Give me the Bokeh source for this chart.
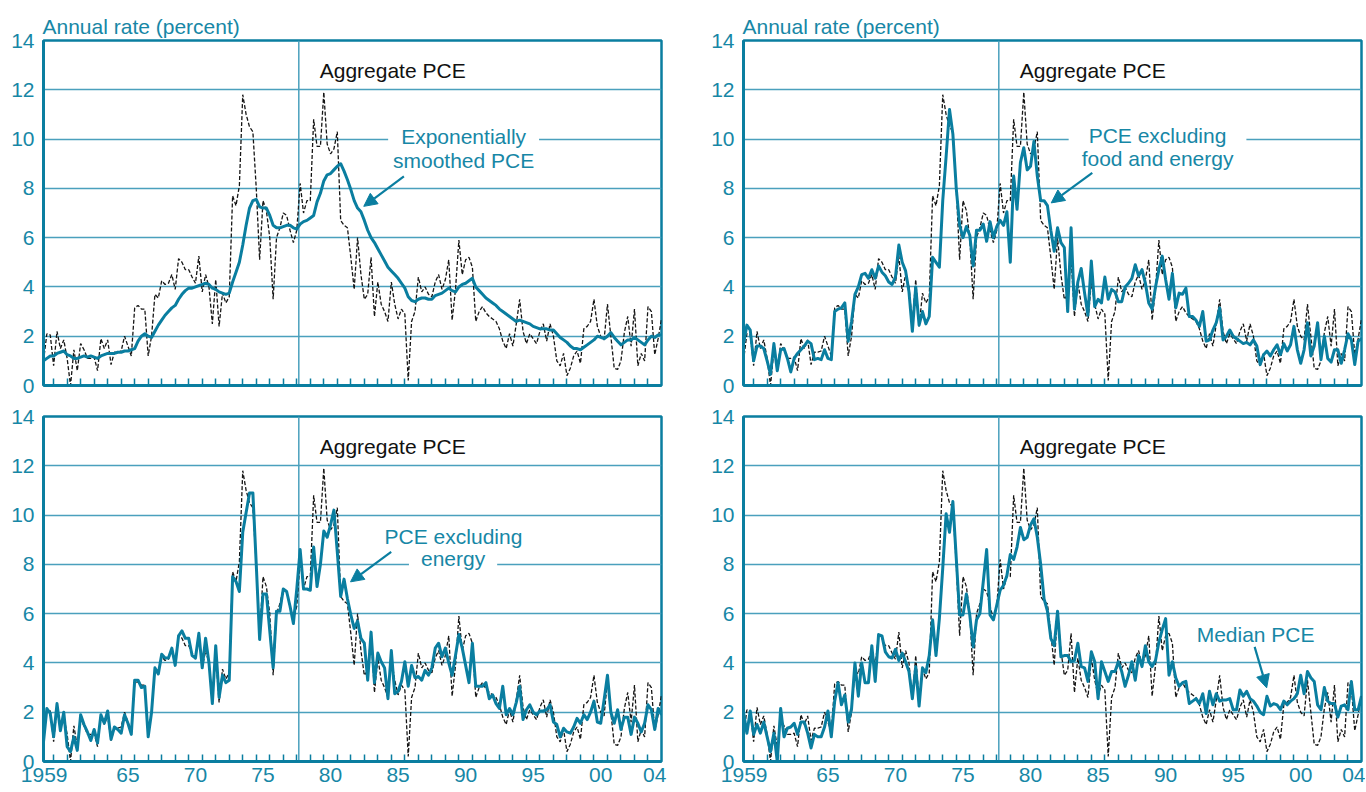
from bokeh.plotting import figure
from bokeh.models import FixedTicker, Span, Label, Arrow, NormalHead, Range1d
from bokeh.layouts import row, column
from bokeh.embed import file_html
from bokeh.resources import INLINE

# ---------------- data (quarterly, annualised percent) ----------------
aggregate_pce = [
    1.0, 2.1, 2.05, 0.8, 2.2, 1.5, 1.85, 1.1, 0.0, 1.45,
    0.6, 1.7, 1.45, 1.1, 1.1, 1.15, 0.6, 1.9, 1.5, 1.85,
    0.85, 1.35, 1.35, 1.4, 2.0, 1.6, 1.2, 3.15, 3.25, 3.1,
    3.1, 1.2, 2.0, 3.7, 3.55, 4.25, 4.1, 4.15, 4.5, 3.9,
    5.15, 5.0, 4.7, 4.7, 4.4, 4.15, 5.25, 3.8, 4.5, 4.0,
    2.5, 4.3, 2.4, 3.75, 3.35, 3.6, 7.7, 7.3, 8.1, 11.8,
    11.0, 10.5, 10.3, 8.0, 5.1, 7.5, 7.1, 6.0, 3.5, 6.0,
    6.4, 7.0, 6.9, 6.3, 5.8, 6.3, 8.2, 7.0, 7.5, 7.5,
    10.8, 9.7, 9.7, 11.9, 9.8, 9.4, 9.6, 10.3, 6.7, 6.5,
    6.4, 5.2, 3.9, 6.0, 4.5, 3.5, 3.7, 5.2, 2.8, 4.2,
    3.3, 3.0, 2.6, 4.2, 3.3, 2.7, 3.1, 2.9, 0.2, 2.6,
    3.0, 4.4, 3.8, 4.0, 3.7, 3.6, 4.2, 4.5, 3.9, 4.3,
    5.1, 2.65, 3.9, 5.9, 4.5, 5.1, 5.2, 4.8, 2.6, 3.0,
    3.2, 2.95, 2.8, 2.7, 2.6, 2.3, 1.8, 1.5, 2.1, 1.6,
    2.5, 3.5, 2.2, 1.7, 2.1, 1.9, 1.7, 2.2, 2.5, 1.8,
    2.5, 2.0, 1.0, 0.8, 1.3, 0.4, 0.7, 1.2, 1.4, 0.9,
    2.3, 2.4, 2.6, 3.5, 2.4, 2.0, 1.85, 3.3, 2.0, 0.7,
    0.65, 1.0, 2.15, 2.8, 1.6, 3.1, 0.8, 1.3, 1.0, 3.2,
    3.0, 1.25, 1.9, 2.7,
]

smoothed_pce = [
    1.0, 1.1, 1.2, 1.2, 1.3, 1.35, 1.4, 1.25, 1.2, 1.1,
    1.1, 1.15, 1.2, 1.15, 1.2, 1.15, 1.1, 1.2, 1.25, 1.3,
    1.3, 1.3, 1.35, 1.35, 1.4, 1.4, 1.45, 1.5, 1.8, 2.0,
    2.1, 2.0, 1.95, 2.2, 2.45, 2.65, 2.85, 3.0, 3.15, 3.25,
    3.5, 3.7, 3.85, 3.95, 3.95, 4.0, 4.05, 4.1, 4.15, 4.1,
    3.95, 3.9, 3.8, 3.75, 3.7, 3.75, 4.2, 4.6, 5.0, 5.7,
    6.5, 7.2, 7.5, 7.55, 7.25, 7.2, 7.2, 6.9, 6.5, 6.4,
    6.4, 6.45, 6.5, 6.5, 6.4, 6.35, 6.55, 6.65, 6.7, 6.8,
    6.9, 7.45, 7.8, 8.3, 8.55, 8.6, 8.75, 8.9, 9.0, 8.7,
    8.35, 7.95, 7.5, 7.2, 7.05, 6.7, 6.3, 6.0, 5.8, 5.55,
    5.3, 5.05, 4.8, 4.65, 4.5, 4.35, 4.15, 3.95, 3.6, 3.45,
    3.4, 3.5, 3.55, 3.55, 3.5, 3.5, 3.65, 3.7, 3.75, 3.85,
    3.95, 3.85, 3.8, 4.0, 4.1, 4.15, 4.25, 4.35, 4.0, 3.85,
    3.7, 3.55, 3.45, 3.35, 3.25, 3.1, 3.0, 2.9, 2.8, 2.7,
    2.6, 2.65, 2.6, 2.55, 2.5, 2.4, 2.35, 2.3, 2.3, 2.3,
    2.25, 2.25, 2.1, 1.95, 1.85, 1.75, 1.6, 1.5, 1.5, 1.45,
    1.55, 1.65, 1.75, 1.85, 2.0, 1.95, 1.9, 2.0, 2.15, 1.95,
    1.8, 1.65, 1.75, 1.85, 1.85, 1.95, 1.85, 1.75, 1.65, 1.85,
    2.0, 1.95, 2.05, 2.05,
]

pce_ex_food_energy = [
    1.7, 2.45, 2.25, 1.0, 1.6, 1.6, 1.5, 1.0, 0.45, 1.7,
    0.6, 1.45, 1.5, 1.1, 0.55, 1.1, 1.3, 1.45, 1.6, 1.8,
    1.7, 1.05, 1.1, 1.05, 1.45, 1.1, 1.05, 3.0, 3.1, 3.15,
    3.35, 1.8, 2.6, 3.7, 4.0, 4.5, 4.55, 4.35, 4.7, 4.35,
    4.85, 4.6, 4.45, 4.2, 4.1, 4.4, 5.7, 5.0, 4.65, 3.8,
    2.2, 4.0, 2.45, 3.0, 2.5, 2.8, 5.2, 5.0, 4.8, 7.5,
    9.3, 11.2, 10.2, 8.0, 6.5, 6.0, 6.45, 6.1, 4.85, 6.3,
    6.3, 6.55, 5.85, 6.65, 6.0, 6.45, 6.7, 6.5, 7.05, 5.0,
    8.5, 7.15, 9.05, 9.65, 8.75, 8.9, 9.9, 8.5, 7.5, 7.5,
    7.3, 6.3, 5.45, 6.4, 5.8, 5.6, 3.0, 6.4, 3.1, 4.2,
    4.75, 3.75, 2.85, 5.05, 3.2, 3.5, 3.35, 4.4, 3.5, 3.9,
    3.8, 3.4, 3.4, 4.0, 4.15, 4.35, 4.9, 4.45, 4.7, 4.15,
    3.35, 3.1, 4.0, 4.7, 5.25, 4.3, 3.5, 4.55, 3.15, 3.75,
    3.7, 3.95, 2.8, 2.8, 2.65, 2.4, 3.0, 1.8, 1.85, 2.25,
    2.55, 3.15, 1.85, 2.0, 2.25, 2.0, 1.9, 1.8, 1.7, 1.75,
    1.65, 1.85, 1.6, 0.85, 1.25, 1.4, 1.2, 1.45, 1.65, 1.25,
    1.7, 1.4, 1.65, 2.4, 1.45, 0.9, 1.45, 2.55, 1.2, 1.6,
    2.55, 1.05, 2.0, 1.1, 0.95, 1.45, 1.45, 0.9, 1.45, 2.1,
    1.85, 0.85, 1.8, 1.9,
]

pce_ex_energy = [
    0.8, 2.15, 1.95, 1.0, 2.35, 1.25, 2.0, 0.6, 0.4, 1.0,
    0.45, 1.9, 1.5, 1.2, 0.85, 1.3, 0.75, 1.9, 1.55, 2.05,
    0.9, 1.4, 1.3, 1.15, 1.9, 1.55, 1.1, 3.3, 3.3, 3.0,
    3.05, 1.0, 2.0, 3.8, 3.55, 4.35, 4.2, 4.2, 4.6, 3.9,
    5.1, 5.3, 5.0, 5.0, 4.3, 4.2, 5.2, 3.8, 5.0, 4.0,
    2.35, 4.7, 2.6, 3.5, 3.2, 3.3, 7.5, 7.3, 6.9, 9.3,
    10.1, 10.9, 10.9, 8.0, 4.95, 6.8, 6.8, 5.3, 3.8, 6.1,
    6.1, 7.0, 6.9, 6.3, 5.6, 7.0, 8.6, 7.0, 7.0, 6.95,
    8.7, 7.1, 8.0, 9.35, 9.1, 9.6, 10.2, 8.5, 6.7, 7.4,
    6.6, 5.95, 5.4, 5.7, 5.0, 4.8, 3.3, 5.25, 3.2, 4.4,
    4.05, 3.8, 2.55, 4.5, 2.75, 2.85, 3.25, 4.05, 3.05, 3.9,
    3.4, 3.45, 3.3, 3.7, 3.5, 3.8, 4.6, 4.8, 4.25, 4.6,
    4.0, 3.5, 4.3, 5.15, 4.6, 3.9, 3.2, 4.8, 3.05, 3.05,
    3.05, 3.2, 2.55, 2.7, 2.35, 2.15, 3.05, 1.9, 2.15, 1.9,
    2.4, 3.05, 1.7, 2.1, 2.3, 2.0, 1.9, 2.05, 2.05, 2.1,
    2.3, 1.6, 1.5, 1.0, 1.35, 1.2, 1.15, 1.4, 1.75, 1.55,
    1.9, 1.7, 2.0, 2.45, 1.6, 1.55, 2.5, 3.5, 2.0, 1.55,
    2.1, 1.3, 1.8, 1.8, 1.1, 1.8, 1.55, 1.2, 1.55, 2.3,
    2.1, 1.3, 2.15, 1.9,
]

median_pce = [
    2.0, 1.15, 2.05, 1.1, 1.5, 1.15, 1.6, 1.0, 0.4, 1.15,
    0.0, 2.15, 1.0, 1.35, 1.4, 1.55, 1.1, 1.6, 1.6, 1.15,
    0.55, 1.1, 1.0, 1.0, 1.4, 2.05, 1.0, 2.45, 3.2, 2.3,
    2.7, 1.6, 2.15, 4.0, 2.65, 4.0, 3.2, 3.2, 4.7, 3.25,
    5.15, 5.1, 4.45, 4.25, 4.2, 4.55, 4.1, 4.4, 4.05, 3.65,
    2.55, 3.85, 2.25, 3.8, 3.6, 4.3, 5.75, 4.3, 5.8, 7.85,
    10.05, 9.3, 10.55, 8.25, 5.95, 5.95, 6.8, 5.95, 4.65, 5.75,
    6.0, 7.3, 8.6, 5.95, 5.75, 6.35, 6.95, 7.15, 7.55, 8.4,
    8.2, 8.7, 9.5, 9.0, 9.1, 9.6, 9.85, 9.1, 8.0, 6.6,
    6.1, 5.0, 4.7, 6.1, 4.25, 4.3, 4.3, 4.05, 4.1, 4.8,
    3.85, 3.8, 3.25, 4.45, 4.05, 2.55, 4.05, 3.65, 3.25, 3.65,
    3.65, 4.05, 3.65, 3.05, 3.5, 4.05, 3.3, 4.3, 3.85, 4.7,
    4.05, 3.85, 4.1, 4.85, 5.35, 5.8, 3.5, 4.05, 3.4, 3.05,
    3.2, 3.25, 2.35, 2.45, 2.55, 2.35, 2.75, 1.95, 2.85, 2.3,
    2.75, 2.45, 2.5, 2.5, 2.55, 2.1, 2.1, 2.9, 2.65, 2.85,
    2.55, 2.45, 2.25, 2.0, 1.9, 2.65, 2.25, 2.35, 2.3, 2.1,
    2.45, 2.3, 2.45, 2.55, 2.75, 3.5, 2.75, 3.65, 3.4, 3.25,
    2.3, 2.1, 3.0, 2.45, 2.35, 2.35, 1.8, 2.25, 2.3, 2.1,
    3.25, 2.1, 2.1, 2.65,
]

first_quarter = 1959.25          # first plotted quarter, quarterly steps
x_start, x_end = 1959.25, 2005.0

ytick_values = [0, 2, 4, 6, 8, 10, 12, 14]
ygrid_values = [2, 4, 6, 8, 10, 12]
xtick_positions = [1959.3, 1965.5, 1970.5, 1975.5, 1980.5, 1985.5, 1990.5, 1995.5, 2000.5, 2004.5]
xtick_labels = ["1959", "65", "70", "75", "80", "85", "90", "95", "00", "04"]
year_ticks = list(range(1960, 2005))
divider_year = 1978.15

quarters = [first_quarter + 0.25 * i for i in range(len(aggregate_pce))]

# ---------------- styling ----------------
FONT = "Liberation Sans"
TEAL = "#0a7ea0"
TEXT_TEAL = "#1787a6"
GRID = "#4aa0bd"
FS = "21px"


def make_panel(series, top, right_panel, notes, arrow):
    p = figure(frame_width=618, frame_height=345,
               x_range=Range1d(x_start, x_end), y_range=Range1d(0, 14),
               output_backend="svg", toolbar_location=None,
               min_border_left=43, min_border_right=4 if right_panel else 39,
               min_border_top=40 if top else 20, min_border_bottom=11 if top else 30,
               background_fill_color="white", border_fill_color="white")
    if top:
        p.title.text = "Annual rate (percent)"
        p.title.text_font = FONT
        p.title.text_font_size = FS
        p.title.text_font_style = "normal"
        p.title.text_color = TEXT_TEAL
        p.title.align = "left"
        p.title.standoff = 5
        p.title.offset = -1

    p.outline_line_color = TEAL
    p.outline_line_width = 2.5
    p.outline_line_alpha = 1.0

    # y axis
    ya = p.yaxis[0]
    ya.ticker = FixedTicker(ticks=ytick_values)
    ya.major_tick_in = 0
    ya.major_tick_out = 0
    ya.minor_tick_in = 0
    ya.minor_tick_out = 0
    ya.axis_line_color = TEAL
    ya.axis_line_width = 3
    ya.major_label_text_font = FONT
    ya.major_label_text_font_size = FS
    ya.major_label_text_color = TEXT_TEAL
    ya.major_label_standoff = 9

    # x axis
    xa = p.xaxis[0]
    if top:
        xa.ticker = FixedTicker(ticks=[], minor_ticks=year_ticks)
        xa.major_label_text_font_size = "0px"
        xa.major_label_standoff = 0
    else:
        xa.ticker = FixedTicker(ticks=xtick_positions, minor_ticks=year_ticks)
        xa.major_label_overrides = {pos: lab for pos, lab in zip(xtick_positions, xtick_labels)}
        xa.major_label_text_font = FONT
        xa.major_label_text_font_size = FS
        xa.major_label_text_color = TEXT_TEAL
        xa.major_label_standoff = 6
    xa.major_tick_in = 0
    xa.major_tick_out = 0
    xa.minor_tick_in = 7
    xa.minor_tick_out = 0
    xa.minor_tick_line_color = TEAL
    xa.minor_tick_line_width = 1.5
    xa.axis_line_color = TEAL
    xa.axis_line_width = 3

    # grid
    p.xgrid.visible = False
    p.ygrid.ticker = FixedTicker(ticks=ygrid_values)
    p.ygrid.grid_line_color = GRID
    p.ygrid.grid_line_width = 1.5

    p.add_layout(Span(location=divider_year, dimension="height", line_color=GRID,
                      line_width=1.5, level="underlay"))

    p.line(quarters, aggregate_pce, line_color="#151515", line_width=1.3, line_dash="4 2")
    p.line(quarters, series, line_color=TEAL, line_width=3, line_join="round")

    p.add_layout(Label(x=1985.1, y=12.78, text="Aggregate PCE", text_font=FONT,
                       text_font_size=FS, text_color="#111111",
                       text_align="center", text_baseline="middle"))
    for (tx, ty, txt, pad) in notes:
        kw = {}
        if pad:
            kw = dict(background_fill_color="white", padding=(pad, 0))
        p.add_layout(Label(x=tx, y=ty, text=txt, text_font=FONT, text_font_size=FS,
                           text_color=TEXT_TEAL, text_align="center",
                           text_baseline="middle", **kw))
    (xs, ys, xe, ye) = arrow
    p.add_layout(Arrow(end=NormalHead(size=13, fill_color=TEAL, line_color=TEAL),
                       x_start=xs, y_start=ys, x_end=xe, y_end=ye,
                       line_color=TEAL, line_width=2.2))
    return p


tl = make_panel(smoothed_pce, True, False,
                [(1990.35, 10.1, "Exponentially", 13), (1990.35, 9.13, "smoothed PCE", 0)],
                (1985.93, 8.49, 1982.96, 7.27))
tr = make_panel(pce_ex_food_energy, True, True,
                [(1989.9, 10.15, "PCE excluding", 20), (1989.9, 9.2, "food and energy", 0)],
                (1985.07, 8.63, 1982.03, 7.41))
bl = make_panel(pce_ex_energy, False, False,
                [(1989.6, 9.15, "PCE excluding", 0), (1989.57, 8.22, "energy", 12)],
                (1984.99, 8.51, 1981.98, 7.29))
br = make_panel(median_pce, False, True,
                [(1997.16, 5.15, "Median PCE", 0)],
                (1997.09, 4.65, 1997.98, 2.99))

layout = column(row(tl, tr), row(bl, br))
open("out.html", "w").write(file_html(layout, INLINE))
